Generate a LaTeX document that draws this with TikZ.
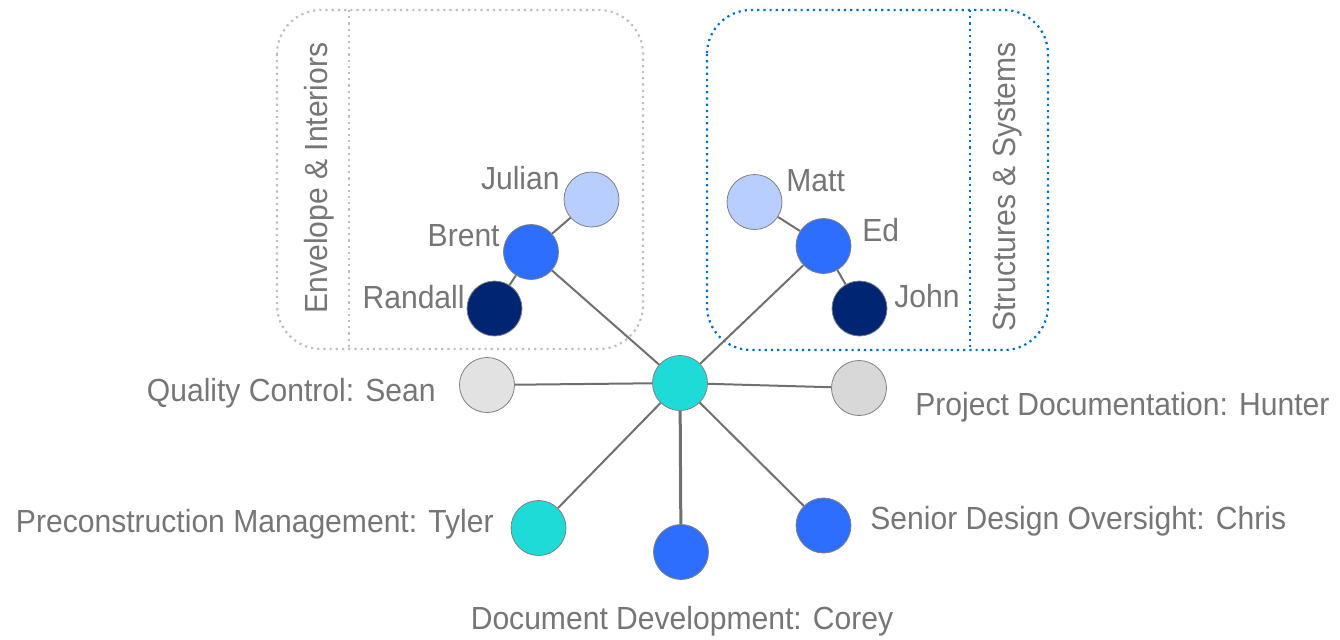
\documentclass[tikz,border=0pt]{standalone}
\usepackage{fontspec}
\setmainfont{Liberation Sans}[FakeStretch=0.94]
\usetikzlibrary{backgrounds}
\definecolor{txtgray}{HTML}{767676}
\definecolor{linegray}{HTML}{707070}
\definecolor{rimgray}{HTML}{808080}
\definecolor{hubteal}{HTML}{1FDBD8}
\definecolor{midblue}{HTML}{2E6EFF}
\definecolor{lightblue}{HTML}{B8CEFF}
\definecolor{navy}{HTML}{002673}
\definecolor{gray1}{HTML}{E2E2E2}
\definecolor{gray2}{HTML}{D8D8D8}
\definecolor{boxgray}{HTML}{BFBFBF}
\definecolor{boxblue}{HTML}{0070C0}
\begin{document}
\begin{tikzpicture}[x=0.5pt,y=-0.5pt,
  person/.style={circle,draw=rimgray,line width=0.4pt,inner sep=0pt,minimum size=27.5pt},
  lbl/.style={text=txtgray,inner sep=0pt,font=\fontsize{16}{19}\selectfont},
  link/.style={draw=linegray,line width=1pt},
  grpbox/.style={dotted,line width=1.1pt,rounded corners=22pt}]
\useasboundingbox (0,0) rectangle (1340,639);
% nodes
\node[person,fill=hubteal] (hub) at (680,383) {};
\node[person,fill=gray1] (sean) at (487,385) {};
\node[person,fill=gray2] (hunter) at (859,388) {};
\node[person,fill=hubteal] (tyler) at (538.5,528) {};
\node[person,fill=midblue] (corey) at (681,552) {};
\node[person,fill=midblue] (chris) at (823.5,525.5) {};
\node[person,fill=lightblue] (julian) at (591.5,199.5) {};
\node[person,fill=midblue] (brent) at (531,252) {};
\node[person,fill=navy] (randall) at (494.5,308.5) {};
\node[person,fill=lightblue] (matt) at (754.5,202) {};
\node[person,fill=midblue] (ed) at (823.5,246) {};
\node[person,fill=navy] (john) at (859.5,308.5) {};
% labels
\node[lbl,anchor=base east] (ljulian) at (560,189) {Julian};
\node[lbl,anchor=base east] (lbrent) at (500,246) {Brent};
\node[lbl,anchor=base east] (lrandall) at (465,308) {Randall};
\node[lbl,anchor=base west] (lmatt) at (786,191) {Matt};
\node[lbl,anchor=base west] (led) at (862,241) {Ed};
\node[lbl,anchor=base west] (ljohn) at (894,307) {John};
\node[lbl,anchor=base east] (lsean) at (436,401) {Quality Control: Sean};
\node[lbl,anchor=base west] (lhunter) at (915,415) {Project Documentation: Hunter};
\node[lbl,anchor=base east] (ltyler) at (494,532) {Preconstruction Management: Tyler};
\node[lbl,anchor=base west] (lchris) at (870,529) {Senior Design Oversight: Chris};
\node[lbl,anchor=base] (lcorey) at (682,629) {Document Development: Corey};
\node[lbl,anchor=base,rotate=90] (lenv) at (327,178) {Envelope \& Interiors};
\node[lbl,anchor=base,rotate=90] (lstruct) at (1015,187) {Structures \& Systems};
\begin{scope}[on background layer]
\fill[white] (0,0) rectangle (1340,639);
\draw[grpbox,draw=boxgray] (277,10) rectangle (643,349);
\draw[grpbox,draw=boxgray] (349,10) -- (349,349);
\draw[grpbox,draw=boxblue] (707,10) rectangle (1048,350);
\draw[grpbox,draw=boxblue] (970,10) -- (970,350);
\draw[link] (hub) -- (brent);
\draw[link] (hub) -- (ed);
\draw[link] (hub) -- (sean);
\draw[link] (hub) -- (hunter);
\draw[link] (hub) -- (tyler);
\draw[link,line width=1.5pt] (hub) -- (corey);
\draw[link] (hub) -- (chris);
\draw[link] (brent) -- (julian);
\draw[link] (brent) -- (randall);
\draw[link] (ed) -- (matt);
\draw[link] (ed) -- (john);
\end{scope}
\end{tikzpicture}
\end{document}
